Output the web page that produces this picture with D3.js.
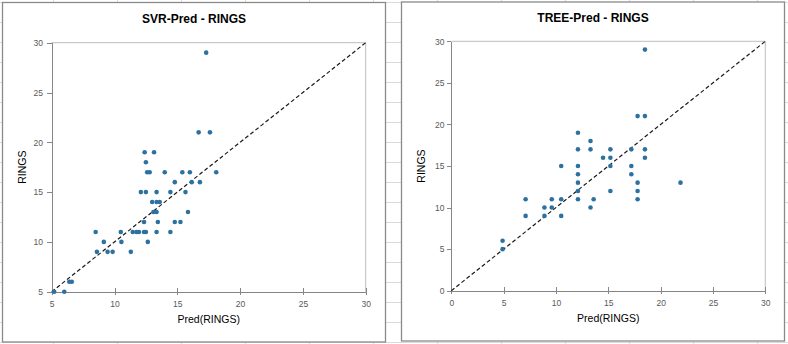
<!DOCTYPE html>
<html>
<head>
<meta charset="utf-8">
<script src="https://cdn.jsdelivr.net/npm/d3@7"></script>
<style>
  html, body { margin: 0; padding: 0; background: #fff; }
  svg { display: block; }
  text { font-family: "Liberation Sans", Arial, sans-serif; }
</style>
</head>
<body>
<svg id="sheet" width="788" height="344"></svg>
<script>
// SVR model: predicted vs. actual rings
const svrPred = [17.3, 16.7, 17.6, 12.4, 13.15, 12.5,
  12.6, 12.8, 14.0, 15.4, 16.0, 18.1,
  14.8, 16.15, 16.8,
  12.1, 12.5, 13.35, 14.45, 15.65,
  13.0, 13.35, 13.6,
  13.1, 13.35, 15.85,
  12.35, 13.45, 14.8, 15.25,
  8.5, 10.5, 11.45, 11.75, 11.95, 12.35, 12.5, 13.35, 14.45,
  9.15, 10.55, 12.65,
  8.6, 9.45, 9.85, 11.3,
  6.4, 6.6,
  5.2, 6.0];
const svrRings = [29, 21, 21, 19, 19, 18,
  17, 17, 17, 17, 17, 17,
  16, 16, 16,
  15, 15, 15, 15, 15,
  14, 14, 14,
  13, 13, 13,
  12, 12, 12, 12,
  11, 11, 11, 11, 11, 11, 11, 11, 11,
  10, 10, 10,
  9, 9, 9, 9,
  6, 6,
  5, 5];

// Regression tree model: predicted vs. actual rings
const treePred = [18.5, 17.8, 18.5, 12.1, 13.3,
  12.1, 13.3, 15.2, 17.2, 18.5,
  14.5, 15.2, 18.5,
  10.5, 12.1, 15.2, 17.2,
  12.1, 17.2,
  12.1, 17.8, 21.9,
  12.1, 15.2, 17.8,
  7.1, 9.6, 10.5, 12.1, 13.6, 17.8,
  8.9, 9.6, 13.3,
  7.1, 8.9, 10.5,
  4.9, 4.9];
const treeRings = [29, 21, 21, 19, 18,
  17, 17, 17, 17, 17,
  16, 16, 16,
  15, 15, 15, 15,
  14, 14,
  13, 13, 13,
  12, 12, 12,
  11, 11, 11, 11, 11, 11,
  10, 10, 10,
  9, 9, 9,
  6, 5];

const svrTicks = [5, 10, 15, 20, 25, 30];
const treeTicks = [0, 5, 10, 15, 20, 25, 30];

const svg = d3.select("#sheet");

// spreadsheet cell grid behind the charts
const gridG = svg.append("g").attr("stroke", "#dadada").attr("stroke-width", 1);
gridG.selectAll("line.v").data(d3.range(53, 788, 64)).join("line")
  .attr("x1", d => d + 0.5).attr("x2", d => d + 0.5).attr("y1", 0).attr("y2", 344);
gridG.selectAll("line.h").data(d3.range(2, 344, 20)).join("line")
  .attr("y1", d => d + 0.5).attr("y2", d => d + 0.5).attr("x1", 0).attr("x2", 788);

function drawChart(cfg) {
  const g = svg.append("g");
  // chart frame
  g.append("rect")
    .attr("x", cfg.box[0]).attr("y", cfg.box[1])
    .attr("width", cfg.box[2] - cfg.box[0]).attr("height", cfg.box[3] - cfg.box[1])
    .attr("fill", "#fff").attr("stroke", "#8a8a8a").attr("stroke-width", 1.3);

  const x = d3.scaleLinear().domain(cfg.domain).range([cfg.plot.l, cfg.plot.r]);
  const y = d3.scaleLinear().domain(cfg.domain).range([cfg.plot.b, cfg.plot.t]);

  // plot area top/right edges
  g.append("path")
    .attr("d", `M${cfg.plot.l},${cfg.plot.t}H${cfg.plot.r}V${cfg.plot.b}`)
    .attr("fill", "none").attr("stroke", "#bdbdbd").attr("stroke-width", 1);

  // x axis with crossing ticks
  const xAxis = g.append("g").attr("transform", `translate(0,${cfg.plot.b})`)
    .call(d3.axisBottom(x).tickValues(cfg.ticks).tickSizeInner(3.5).tickSizeOuter(0).tickFormat(d3.format("d")));
  xAxis.select(".domain").attr("stroke", "#868686").attr("stroke-width", 1.2);
  xAxis.selectAll(".tick line").attr("stroke", "#868686").attr("y1", -3.5);
  xAxis.selectAll(".tick text").attr("y", cfg.xLabelY - cfg.plot.b).attr("dy", 0)
    .attr("fill", "#595959").style("font-size", "8.5px");

  // y axis
  const yAxis = g.append("g").attr("transform", `translate(${cfg.plot.l},0)`)
    .call(d3.axisLeft(y).tickValues(cfg.ticks).tickSizeInner(4.5).tickSizeOuter(0).tickFormat(d3.format("d")));
  yAxis.select(".domain").attr("stroke", "#868686").attr("stroke-width", 1.2);
  yAxis.selectAll(".tick line").attr("stroke", "#868686");
  yAxis.selectAll(".tick text").attr("x", cfg.yLabelX - cfg.plot.l)
    .attr("fill", "#595959").style("font-size", "8.5px");
  g.selectAll(".domain, .tick line").attr("shape-rendering", "crispEdges");

  // identity reference line
  g.append("line")
    .attr("x1", x(cfg.domain[0])).attr("y1", y(cfg.domain[0]))
    .attr("x2", x(cfg.domain[1])).attr("y2", y(cfg.domain[1]))
    .attr("stroke", "#1a1a1a").attr("stroke-width", 1.2).attr("stroke-dasharray", "4,2.5");

  // observations
  g.append("g").selectAll("circle").data(cfg.pred.map((p, i) => [p, cfg.actual[i]])).join("circle")
    .attr("cx", d => x(d[0])).attr("cy", d => y(d[1])).attr("r", 2.3)
    .attr("fill", "#2c71a0");

  // titles
  const cx = (cfg.box[0] + cfg.box[2]) / 2;
  g.append("text").attr("x", cx).attr("y", cfg.titleY).attr("text-anchor", "middle")
    .attr("fill", "#000").style("font-size", "12px").style("font-weight", "bold").text(cfg.title);
  g.append("text").attr("x", (cfg.plot.l + cfg.plot.r) / 2).attr("y", cfg.xTitleY).attr("text-anchor", "middle")
    .attr("fill", "#000").style("font-size", "10.5px").text("Pred(RINGS)");
  g.append("text").attr("transform", `translate(${cfg.yTitleX},${(cfg.plot.t + cfg.plot.b) / 2}) rotate(-90)`)
    .attr("text-anchor", "middle").attr("fill", "#000").style("font-size", "10.5px").text("RINGS");
}

drawChart({
  title: "SVR-Pred - RINGS",
  box: [2.5, 2.5, 385.5, 342],
  plot: { l: 51.7, r: 365.7, t: 42.7, b: 291.7 },
  domain: [5, 30], ticks: svrTicks,
  pred: svrPred, actual: svrRings,
  titleY: 22.7, xLabelY: 306.7, yLabelX: 43, xTitleY: 322.7, yTitleX: 26
});

drawChart({
  title: "TREE-Pred - RINGS",
  box: [401.5, 2, 784.5, 341],
  plot: { l: 451.3, r: 765.3, t: 41.3, b: 290.7 },
  domain: [0, 30], ticks: treeTicks,
  pred: treePred, actual: treeRings,
  titleY: 22, xLabelY: 305.7, yLabelX: 444.5, xTitleY: 321.7, yTitleX: 425
});
</script>
</body>
</html>
